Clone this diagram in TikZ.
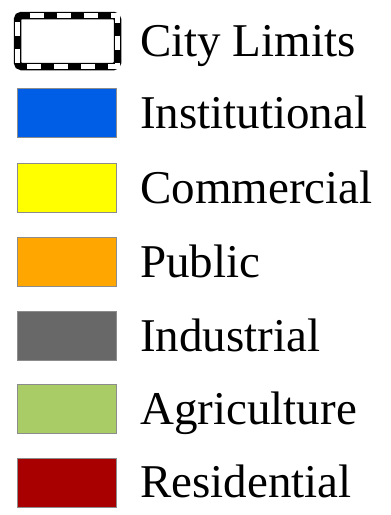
\documentclass[tikz,border=0pt]{standalone}
\usepackage{fontspec}
\setmainfont{Liberation Serif}
\definecolor{instblue}{RGB}{0,94,230}
\definecolor{commyellow}{RGB}{255,255,0}
\definecolor{puborange}{RGB}{255,166,0}
\definecolor{indgray}{RGB}{104,104,104}
\definecolor{agrgreen}{RGB}{170,204,102}
\definecolor{resred}{RGB}{168,0,0}
\definecolor{swborder}{RGB}{140,140,140}
\begin{document}
\begin{tikzpicture}[x=1pt,y=-1pt,
  swatch/.style={draw=swborder,line width=1.3pt,minimum width=99pt,minimum height=49pt,inner sep=0pt,anchor=center},
  legtext/.style={anchor=base west,inner sep=0pt,font=\fontsize{47}{50}\selectfont}]
\useasboundingbox (0,0) rectangle (391,515);
% city limits box
\coordinate (cl1) at (17.5,15.5);
\coordinate (cl2) at (117.5,66.5);
\draw[black,line width=7.5pt,rounded corners=4pt] (cl1) rectangle (cl2);
\draw[white,line width=4.5pt,dash pattern=on 14pt off 13pt,dash phase=-12pt] (cl1) -- (cl1 -| cl2) -- (cl2) -- (cl1 |- cl2) -- cycle;
\node[legtext] (t0) at (140,56) {City Limits};
% swatches
\node[swatch,fill=instblue] (s1) at (67,113) {};
\node[legtext] (t1) at (140,128) {Institutional};
\node[swatch,fill=commyellow] (s2) at (67,188) {};
\node[legtext] (t2) at (140,203) {Commercial};
\node[swatch,fill=puborange] (s3) at (67,262) {};
\node[legtext] (t3) at (140,277) {Public};
\node[swatch,fill=indgray] (s4) at (67,336) {};
\node[legtext] (t4) at (140,351) {Industrial};
\node[swatch,fill=agrgreen] (s5) at (67,409) {};
\node[legtext] (t5) at (140,424) {Agriculture};
\node[swatch,fill=resred] (s6) at (67,483) {};
\node[legtext] (t6) at (140,497) {Residential};
\end{tikzpicture}
\end{document}
